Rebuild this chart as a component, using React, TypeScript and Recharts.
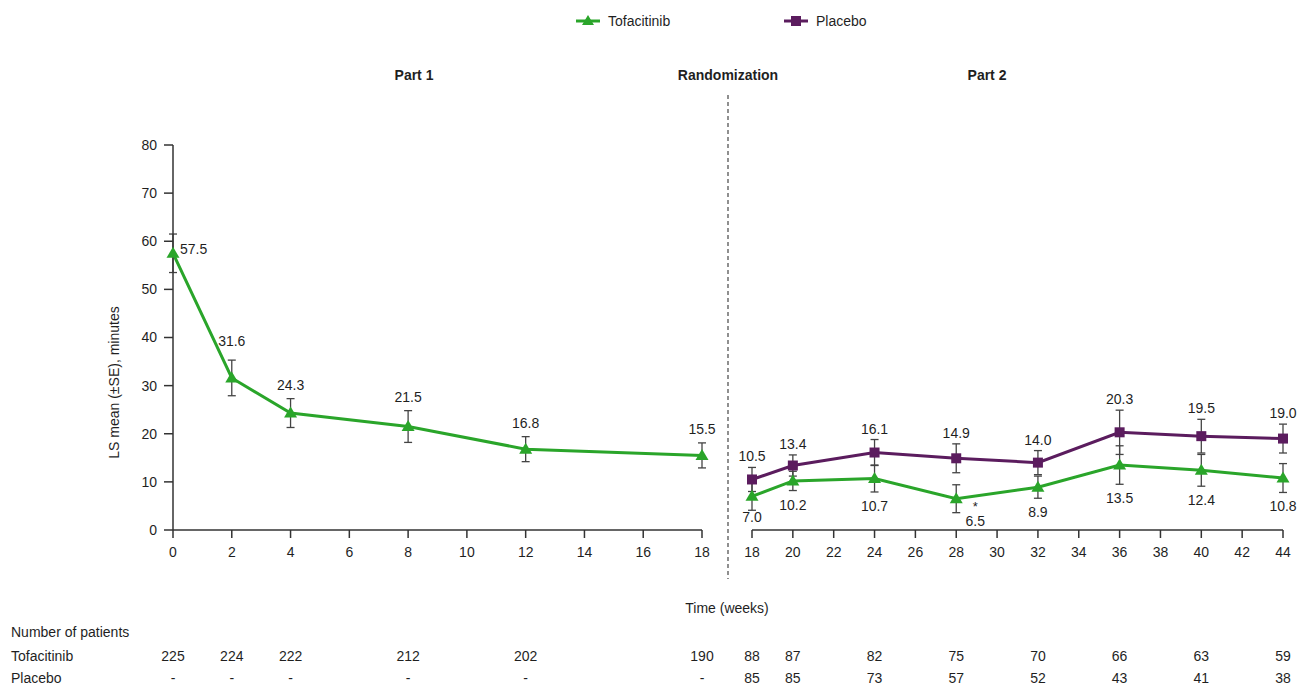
import React from 'react';
import { LineChart, Line, XAxis, YAxis, ErrorBar, LabelList } from 'recharts';

const FONT = 'Arial, "Liberation Sans", Helvetica, sans-serif';
const GREEN = '#2aa52a';
const PURPLE = '#5b1c5e';
const INK = '#1f1f1f';
const AXIS = '#333333';
const WHISKER = '#444444';
const FS = 14;

// Part 1: open-label tofacitinib (weeks 0-18)
const part1Weeks = [0, 2, 4, 8, 12, 18];
const part1Tofa = [57.5, 31.6, 24.3, 21.5, 16.8, 15.5];
const part1TofaSE = [4.0, 3.7, 3.0, 3.3, 2.6, 2.6];
const part1TofaN = ['225', '224', '222', '212', '202', '190'];
const part1PlaceboN = ['-', '-', '-', '-', '-', '-'];
const part1Ticks = [0, 2, 4, 6, 8, 10, 12, 14, 16, 18];

// Part 2: randomized withdrawal (weeks 18-44)
const part2Weeks = [18, 20, 24, 28, 32, 36, 40, 44];
const part2Tofa = [7.0, 10.2, 10.7, 6.5, 8.9, 13.5, 12.4, 10.8];
const part2TofaSE = [2.9, 2.0, 2.8, 2.9, 2.3, 4.0, 3.3, 3.0];
const part2Placebo = [10.5, 13.4, 16.1, 14.9, 14.0, 20.3, 19.5, 19.0];
const part2PlaceboSE = [2.5, 2.2, 2.7, 3.0, 2.5, 4.6, 3.5, 3.0];
const part2TofaN = ['88', '87', '82', '75', '70', '66', '63', '59'];
const part2PlaceboN = ['85', '85', '73', '57', '52', '43', '41', '38'];
const part2Ticks = [18, 20, 22, 24, 26, 28, 30, 32, 34, 36, 38, 40, 42, 44];

// Significance marker beside the Part 2 tofacitinib value at week 28
const part2TofaStar = [false, false, false, true, false, false, false, false];

const yTicks = [0, 10, 20, 30, 40, 50, 60, 70, 80];

const part1Data = part1Weeks.map((week, i) => ({
  week,
  tofa: part1Tofa[i],
  tofaErr: part1TofaSE[i],
  tofaTop: part1Tofa[i] + part1TofaSE[i],
}));

const part2Data = part2Weeks.map((week, i) => ({
  week,
  tofa: part2Tofa[i],
  tofaErr: part2TofaSE[i],
  tofaLow: part2Tofa[i] - part2TofaSE[i],
  placebo: part2Placebo[i],
  placeboErr: part2PlaceboSE[i],
  placeboTop: part2Placebo[i] + part2PlaceboSE[i],
}));

const pointOf = (p: any) => {
  const vb = p.viewBox || {};
  const x = typeof p.x === 'number' ? p.x : vb.x;
  const y = typeof p.y === 'number' ? p.y : vb.y;
  return { x, y };
};

const TriangleDot = (props: any) => {
  const { cx, cy, index } = props;
  if (cx == null || cy == null) return <g key={`t-${index}`} />;
  return (
    <path
      key={`t-${index}`}
      d={`M${cx},${cy - 6.5} L${cx + 6.5},${cy + 4.5} L${cx - 6.5},${cy + 4.5} Z`}
      fill={GREEN}
    />
  );
};

const SquareDot = (props: any) => {
  const { cx, cy, index } = props;
  if (cx == null || cy == null) return <g key={`s-${index}`} />;
  return <rect key={`s-${index}`} x={cx - 5} y={cy - 5} width={10} height={10} fill={PURPLE} />;
};

// Value labels sit just above the upper whisker
const part1Label = (p: any) => {
  const { x, y } = pointOf(p);
  const i = p.index;
  const text = part1Tofa[i].toFixed(1);
  if (i === 0) {
    return (
      <text key={`l1-${i}`} x={x + 7} y={y + 20} fontSize={FS} fill={INK} textAnchor="start">
        {text}
      </text>
    );
  }
  const lift = i === 1 ? 14 : 9;
  return (
    <text key={`l1-${i}`} x={x} y={y - lift} fontSize={FS} fill={INK} textAnchor="middle">
      {text}
    </text>
  );
};

const placeboLabel = (p: any) => {
  const { x, y } = pointOf(p);
  const i = p.index;
  return (
    <text key={`lp-${i}`} x={x} y={y - 6} fontSize={FS} fill={INK} textAnchor="middle">
      {part2Placebo[i].toFixed(1)}
    </text>
  );
};

// Tofacitinib labels in Part 2 sit below the lower whisker
const tofa2Label = (p: any) => {
  const { x, y } = pointOf(p);
  const i = p.index;
  const text = part2Tofa[i].toFixed(1);
  if (part2TofaStar[i]) {
    return (
      <g key={`lt-${i}`}>
        <text x={x + 19} y={y - 2} fontSize={13} fill={INK} textAnchor="middle">*</text>
        <text x={x + 19} y={y + 13} fontSize={FS} fill={INK} textAnchor="middle">{text}</text>
      </g>
    );
  }
  const dy = i === 0 ? 12 : 19;
  return (
    <text key={`lt-${i}`} x={x} y={y + dy} fontSize={FS} fill={INK} textAnchor="middle">
      {text}
    </text>
  );
};

// Week tick plus the number-of-patients rows beneath it
const makeWeekTick = (weeks: number[], tofaN: string[], placeboN: string[]) => (props: any) => {
  const { x, y, payload } = props;
  const i = weeks.indexOf(payload.value);
  return (
    <g>
      <text x={x} y={y} dy={10.5} fontSize={FS} fill={INK} textAnchor="middle">
        {payload.value}
      </text>
      {i >= 0 && (
        <text x={x} y={y} dy={115} fontSize={FS} fill={INK} textAnchor="middle">
          {tofaN[i]}
        </text>
      )}
      {i >= 0 && (
        <text x={x} y={y} dy={137} fontSize={FS} fill={INK} textAnchor="middle">
          {placeboN[i]}
        </text>
      )}
    </g>
  );
};

const part1Tick = makeWeekTick(part1Weeks, part1TofaN, part1PlaceboN);
const part2Tick = makeWeekTick(part2Weeks, part2TofaN, part2PlaceboN);

const yLabel = (p: any) => {
  const vb = p.viewBox || { x: 0, y: 145, height: 385 };
  const cx = vb.x + 114;
  const cy = vb.y + vb.height / 2 + 45;
  return (
    <text
      x={cx}
      y={cy}
      transform={`rotate(-90 ${cx} ${cy})`}
      textAnchor="middle"
      dominantBaseline="central"
      fontSize={FS}
      fill={INK}
    >
      LS mean (±SE), minutes
    </text>
  );
};

const axisLine = { stroke: AXIS, strokeWidth: 1.5 };

const Caption = ({ cx, cy, bold, children }: any) => (
  <div
    style={{
      position: 'absolute',
      left: cx,
      top: cy,
      transform: 'translate(-50%, -50%)',
      whiteSpace: 'nowrap',
      fontSize: FS,
      fontWeight: bold ? 700 : 400,
      color: INK,
      lineHeight: 1,
    }}
  >
    {children}
  </div>
);

const RowLabel = ({ cy, children }: any) => (
  <div
    style={{
      position: 'absolute',
      left: 11,
      top: cy,
      transform: 'translateY(-50%)',
      whiteSpace: 'nowrap',
      fontSize: FS,
      color: INK,
      lineHeight: 1,
    }}
  >
    {children}
  </div>
);

const LegendItem = ({ left, label, color, marker }: any) => (
  <div style={{ position: 'absolute', left, top: 12, display: 'flex', alignItems: 'center', height: 18 }}>
    <svg width={24} height={16}>
      <line x1={0} y1={8} x2={24} y2={8} stroke={color} strokeWidth={3} />
      {marker === 'triangle' ? (
        <path d="M12,2 L18,12 L6,12 Z" fill={color} />
      ) : (
        <rect x={7} y={3} width={10} height={10} fill={color} />
      )}
    </svg>
    <span style={{ marginLeft: 8, fontSize: FS, color: INK }}>{label}</span>
  </div>
);

export default function App() {
  return (
    <div
      style={{
        position: 'absolute',
        left: 0,
        top: 0,
        width: 1305,
        height: 686,
        background: '#ffffff',
        fontFamily: FONT,
        overflow: 'hidden',
      }}
    >
      <LegendItem left={576} label="Tofacitinib" color={GREEN} marker="triangle" />
      <LegendItem left={784} label="Placebo" color={PURPLE} marker="square" />

      <Caption cx={414} cy={75} bold>Part 1</Caption>
      <Caption cx={728} cy={75} bold>Randomization</Caption>
      <Caption cx={987} cy={75} bold>Part 2</Caption>

      <div style={{ position: 'absolute', left: 0, top: 0 }}>
        <LineChart
          width={720}
          height={686}
          data={part1Data}
          margin={{ top: 145, right: 18, bottom: 126, left: 0 }}
        >
          <XAxis
            dataKey="week"
            type="number"
            domain={[0, 18]}
            ticks={part1Ticks}
            interval={0}
            height={30}
            tickSize={8}
            tickMargin={8}
            axisLine={axisLine}
            tickLine={axisLine}
            tick={part1Tick}
          />
          <YAxis
            type="number"
            domain={[0, 80]}
            ticks={yTicks}
            interval={0}
            width={173}
            tickSize={9}
            tickMargin={7}
            axisLine={axisLine}
            tickLine={axisLine}
            tick={{ fontSize: FS, fill: INK }}
            label={{ content: yLabel }}
          />
          <Line
            dataKey="tofa"
            stroke={GREEN}
            strokeWidth={3}
            dot={TriangleDot}
            activeDot={false}
            isAnimationActive={false}
          >
            <ErrorBar dataKey="tofaErr" direction="y" width={4} stroke={WHISKER} strokeWidth={1.3} />
          </Line>
          <Line
            dataKey="tofaTop"
            stroke="none"
            dot={false}
            activeDot={false}
            isAnimationActive={false}
            legendType="none"
          >
            <LabelList content={part1Label} />
          </Line>
        </LineChart>
      </div>

      <div style={{ position: 'absolute', left: 731, top: 0 }}>
        <LineChart
          width={569}
          height={686}
          data={part2Data}
          margin={{ top: 145, right: 17, bottom: 126, left: 21 }}
        >
          <XAxis
            dataKey="week"
            type="number"
            domain={[18, 44]}
            ticks={part2Ticks}
            interval={0}
            height={30}
            tickSize={8}
            tickMargin={8}
            axisLine={axisLine}
            tickLine={axisLine}
            tick={part2Tick}
          />
          <YAxis hide type="number" domain={[0, 80]} ticks={yTicks} />
          <Line
            dataKey="placebo"
            stroke={PURPLE}
            strokeWidth={3}
            dot={SquareDot}
            activeDot={false}
            isAnimationActive={false}
          >
            <ErrorBar dataKey="placeboErr" direction="y" width={4} stroke={WHISKER} strokeWidth={1.3} />
          </Line>
          <Line
            dataKey="tofa"
            stroke={GREEN}
            strokeWidth={3}
            dot={TriangleDot}
            activeDot={false}
            isAnimationActive={false}
          >
            <ErrorBar dataKey="tofaErr" direction="y" width={4} stroke={WHISKER} strokeWidth={1.3} />
          </Line>
          <Line
            dataKey="placeboTop"
            stroke="none"
            dot={false}
            activeDot={false}
            isAnimationActive={false}
            legendType="none"
          >
            <LabelList content={placeboLabel} />
          </Line>
          <Line
            dataKey="tofaLow"
            stroke="none"
            dot={false}
            activeDot={false}
            isAnimationActive={false}
            legendType="none"
          >
            <LabelList content={tofa2Label} />
          </Line>
        </LineChart>
      </div>

      <svg
        width={1305}
        height={686}
        style={{ position: 'absolute', left: 0, top: 0, pointerEvents: 'none' }}
      >
        <line x1={728} y1={95} x2={728} y2={579} stroke="#555" strokeWidth={1.3} strokeDasharray="4 3" />
      </svg>

      <Caption cx={727} cy={608}>Time (weeks)</Caption>
      <RowLabel cy={632}>Number of patients</RowLabel>
      <RowLabel cy={656}>Tofacitinib</RowLabel>
      <RowLabel cy={678}>Placebo</RowLabel>
    </div>
  );
}
